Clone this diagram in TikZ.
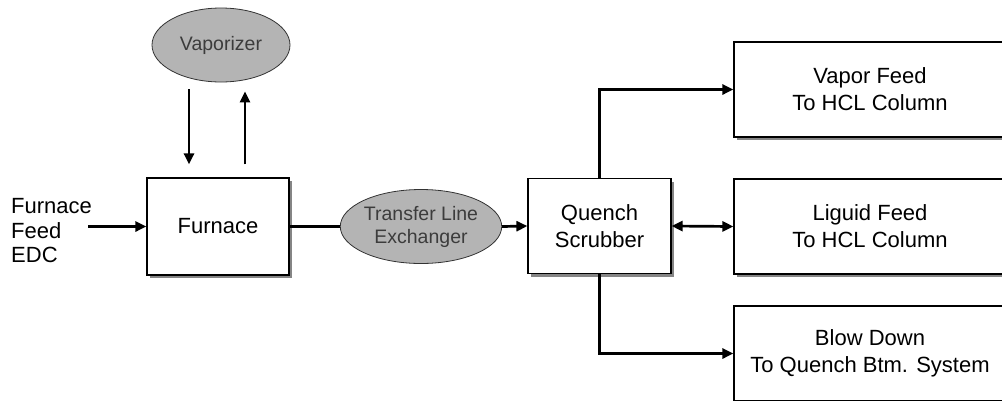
\documentclass[tikz,border=0pt]{standalone}
\usepackage{fontspec}
\setmainfont{Liberation Sans}
\usetikzlibrary{arrows.meta,shadows,shapes.geometric}
\definecolor{unitfill}{HTML}{B4B4B4}
\definecolor{unittext}{HTML}{3C3C3C}
\definecolor{shade}{HTML}{858585}

\begin{document}
\begin{tikzpicture}[x=1pt,y=-1pt,
  box/.style={draw, line width=1.2pt, fill=white, minimum width=142pt,
    minimum height=95pt, inner sep=0pt, align=center,
    font=\fontsize{22}{27}\selectfont,
    drop shadow={shadow xshift=3pt, shadow yshift=-3pt, fill=shade, opacity=1}},
  wide/.style={box, minimum width=272pt},
  unit/.style={ellipse, draw=black!80, line width=0.8pt, fill=unitfill,
    minimum width=138pt, minimum height=74pt, inner sep=0pt, align=center,
    text=unittext, font=\fontsize{19.5}{23}\selectfont},
  tip/.tip={Triangle[length=11pt,width=10pt]},
  pipe/.style={line width=2.7pt},
  flow/.style={pipe, -tip},
  twoway/.style={pipe, tip-tip}
]
\useasboundingbox (0,0) rectangle (1002,400);
\clip (0,0) rectangle (1002,400);

% process units
\node[box, minimum height=97pt] (furn) at (218,226.5) {Furnace};
\node[box, minimum width=143pt] (quench) at (599.5,226) {Quench\\Scrubber};
\node[wide] (vapor)  at (870,89.5)  {Vapor Feed\\To HCL Column};
\node[wide] (liquid) at (870,226.5) {Liguid Feed\\To HCL Column};
\node[wide] (blow)   at (870,353.5) {Blow Down\\To Quench Btm. System};

% heat-exchange equipment
\node[unit] (vap) at (221,45) {Vaporizer};
\node[unit] (tle) at (421,226.5) {Transfer Line\\Exchanger};

% feed label
\node[anchor=west, align=left, inner sep=0pt,
  font=\fontsize{22}{24.5}\selectfont] (feed) at (11,231) {Furnace\\Feed\\EDC};

% streams
\draw[flow] ([xshift=-58pt]furn.west) -- (furn.west);
\draw[flow] ([xshift=-29pt,yshift=88pt]furn.north) -- ([xshift=-29pt,yshift=13pt]furn.north);
\draw[flow] ([xshift=27pt,yshift=13pt]furn.north) -- ([xshift=27pt,yshift=86pt]furn.north);
\draw[pipe] (furn.east) -- (tle.west);
\draw[flow] (tle.east) -- (quench.west);
\draw[flow] (quench.north) |- (vapor.west);
\draw[twoway] (quench.east) -- (liquid.west);
\draw[flow] (quench.south) |- (blow.west);
\end{tikzpicture}
\end{document}
